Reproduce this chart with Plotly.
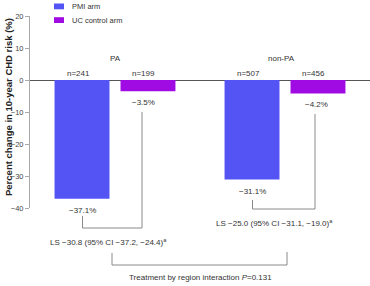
import plotly.graph_objects as go

# ---- data ----
regions = ["PA", "non-PA"]
arms = ["PMI arm", "UC control arm"]
pmi_change = [-37.1, -31.1]
uc_change = [-3.5, -4.2]
pmi_n = [241, 507]
uc_n = [199, 456]
ls_est = [-30.8, -25.0]
ls_lo = [-37.2, -31.1]
ls_hi = [-24.4, -19.0]
p_interaction = 0.131
y_ticks = [20, 10, 0, -10, -20, -30, -40]
y_title = "Percent change in 10-year CHD risk (%)"

BLUE = "#5454F4"
PURPLE = "#A10BE3"
GRAY = "#8a8a8a"
TXT = "#333333"
FONT = "Arial, Liberation Sans, sans-serif"

W, H = 370, 286
ML, MR, MT, MB = 30, 0, 16, 78
BARGAP, BARGROUPGAP = 0.224, 0.167
OFF = (1 - BARGAP) / 4  # bar center offset from category center


def fmt(v):
    return f"{v:.1f}".replace("-", "\u2212")


def px_x(px):
    return (px - ML) / (W - ML - MR)


def px_y(py):
    return (H - MB - py) / (H - MT - MB)


fig = go.Figure()
fig.add_trace(go.Bar(x=regions, y=pmi_change, name=arms[0], marker_color=BLUE,
                     marker_line_width=0, showlegend=False))
fig.add_trace(go.Bar(x=regions, y=uc_change, name=arms[1], marker_color=PURPLE,
                     marker_line_width=0, showlegend=False))

ann = []
shapes = []
f8 = dict(family=FONT, size=8, color=TXT)

for i, reg in enumerate(regions):
    # region label
    ann.append(dict(x=i - (0.02 if i else 0), y=px_y(58.5), xref="x", yref="paper", text=reg,
                    showarrow=False, font=f8, xanchor="center", yanchor="middle"))
    # n labels
    for off, n in ((-OFF, pmi_n[i]), (OFF, uc_n[i])):
        ann.append(dict(x=i + off, y=px_y(73.5), xref="x", yref="paper", text=f"n={n}",
                        showarrow=False, font=f8, xanchor="center", yanchor="middle", xshift=-4))
    # value labels
    for off, v, xs in ((-OFF, pmi_change[i], 0), (OFF, uc_change[i], -4 if i == 0 else -1)):
        ann.append(dict(x=i + off, y=v, xref="x", yref="y", text=fmt(v) + "%",
                        showarrow=False, font=f8, xanchor="center", yanchor="middle",
                        yshift=-11.5, xshift=xs))

# bracket geometry (pixels) per region
br = [
    dict(lx=82.5, rx=142, ltop=216, rtop=112, bot=228, tx=108, ty=242),
    dict(lx=252.5, rx=315, ltop=200, rtop=114, bot=209, tx=274, ty=223),
]
line = dict(color=GRAY, width=1)
for i, b in enumerate(br):
    path = (f"M{px_x(b['lx'])},{px_y(b['ltop'])} L{px_x(b['lx'])},{px_y(b['bot'])} "
            f"L{px_x(b['rx'])},{px_y(b['bot'])} L{px_x(b['rx'])},{px_y(b['rtop'])}")
    shapes.append(dict(type="path", xref="paper", yref="paper", path=path, line=line))
    txt = f"LS {fmt(ls_est[i])} (95% CI {fmt(ls_lo[i])}, {fmt(ls_hi[i])})<sup>a</sup>"
    ann.append(dict(x=px_x(b["tx"]), y=px_y(b["ty"]), xref="paper", yref="paper", text=txt,
                    showarrow=False, font=f8, xanchor="center", yanchor="middle"))

# interaction bracket
path = (f"M{px_x(112)},{px_y(253)} L{px_x(112)},{px_y(265)} "
        f"L{px_x(287)},{px_y(265)} L{px_x(287)},{px_y(252)}")
shapes.append(dict(type="path", xref="paper", yref="paper", path=path, line=line))
ann.append(dict(x=px_x(200), y=px_y(277.5), xref="paper", yref="paper",
                text=f"Treatment by region interaction <i>P</i>={p_interaction}",
                showarrow=False, font=f8, xanchor="center", yanchor="middle"))

# legend (manual)
for j, (name, col) in enumerate(zip(arms, [BLUE, PURPLE])):
    top = 3.5 + j * 13.7
    shapes.append(dict(type="rect", xref="paper", yref="paper",
                       x0=px_x(54), x1=px_x(64), y0=px_y(top), y1=px_y(top + 5.8),
                       fillcolor=col, line_width=0))
    ann.append(dict(x=px_x(70), y=px_y(top + 3), xref="paper", yref="paper", text=name,
                    showarrow=False, font=dict(family=FONT, size=7.5, color=TXT),
                    xanchor="left", yanchor="middle"))

# y title
ann.append(dict(x=px_x(8), y=px_y(107), xref="paper", yref="paper",
                text=f"<b>{y_title}</b>", textangle=-90, showarrow=False,
                font=dict(family=FONT, size=9.5, color="#222222"),
                xanchor="center", yanchor="middle"))

fig.update_layout(
    width=W, height=H,
    margin=dict(l=ML, r=MR, t=MT, b=MB, pad=0),
    paper_bgcolor="white", plot_bgcolor="white",
    barmode="group", bargap=BARGAP, bargroupgap=BARGROUPGAP,
    showlegend=False,
    annotations=ann, shapes=shapes,
    font=dict(family=FONT, size=8, color=TXT),
    xaxis=dict(type="category", range=[-0.5, 1.5], showticklabels=False, showline=False,
               showgrid=False, zeroline=False, ticks=""),
    yaxis=dict(range=[-40, 20], tickvals=y_ticks, showline=True, linecolor="#aaaaaa",
               linewidth=1, ticks="outside", ticklen=4, tickcolor="#aaaaaa",
               showgrid=False, zeroline=True, zerolinecolor="#555555", zerolinewidth=1,
               tickfont=dict(family=FONT, size=7.5, color="#444444")),
)

fig.write_html("out.html")
